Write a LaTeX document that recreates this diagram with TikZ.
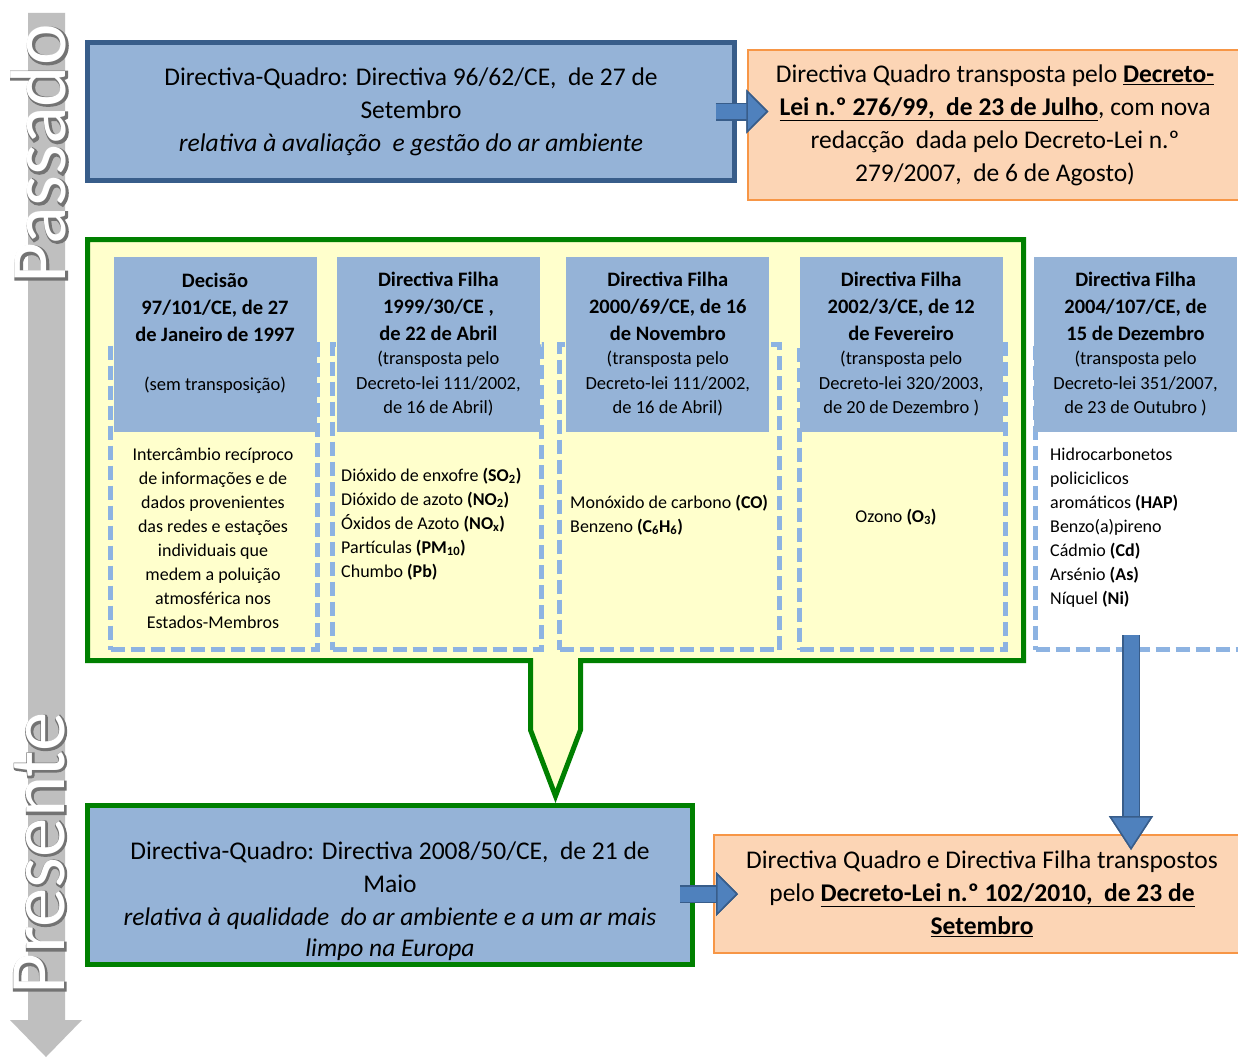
\documentclass[tikz,border=0pt]{standalone}
\usepackage{fontspec}
\setmainfont{Carlito}
\newfontfamily\contorno[FakeBold=4]{Carlito}
\usetikzlibrary{arrows.meta, positioning}

\definecolor{azulcaixa}{RGB}{149,179,215}
\definecolor{azulborda}{RGB}{56,93,138}
\definecolor{azulseta}{RGB}{79,129,189}
\definecolor{laranjafundo}{RGB}{252,213,181}
\definecolor{laranjaborda}{RGB}{247,150,70}
\definecolor{verdeborda}{RGB}{0,128,0}
\definecolor{amarelofundo}{RGB}{255,255,204}
\definecolor{azultracejado}{RGB}{141,179,226}
\definecolor{cinzatempo}{RGB}{191,191,191}

\newcommand{\grande}{\fontsize{25.5}{33}\selectfont}
\newcommand{\negrito}{\fontsize{20.5}{24.5}\selectfont\bfseries}
\newcommand{\pequeno}{\fontsize{18.5}{24.5}\selectfont}
\newcommand{\corpo}{\fontsize{18}{24}\selectfont}

\begin{document}
\begin{tikzpicture}[
    x=1pt, y=-1pt,
    quadro/.style={rectangle, draw=azulborda, line width=5pt, fill=azulcaixa,
                   align=center, font=\grande},
    transposicao/.style={rectangle, draw=laranjaborda, line width=1.5pt,
                   fill=laranjafundo, align=center, font=\grande},
    cabecalho/.style={rectangle, fill=azulcaixa, minimum width=203pt,
                   minimum height=175pt, align=center, font=\pequeno, inner sep=0pt},
    tracejado/.style={rectangle, draw=azultracejado, line width=5pt,
                   dash pattern=on 14pt off 6pt, minimum height=305pt},
    poluentes/.style={inner sep=0pt, font=\corpo},
    seta/.style={line width=15pt, draw=azulseta,
                 preaction={draw=azulborda, line width=18pt},
                 -{Triangle[length=22pt, width=44pt, line width=1.5pt,
                   color=azulborda, fill=azulseta]}},
    tempo/.style={rotate=90, anchor=west, inner sep=0pt,
                  font=\fontsize{79}{79}\selectfont}
]
    \path[use as bounding box, fill=white] (0,0) rectangle (1238,1057);

    % linha do tempo
    \fill[cinzatempo] (28,13) -- (65,13) -- (65,1020) -- (82,1020) -- (46,1057)
      -- (10,1020) -- (28,1020) -- cycle;
    \node[tempo, text=black!55] (passadoSombra) at (39.5,285) {\contorno Passado};
    \node[tempo, text=white] (passado) at (38.5,284) {Passado};
    \node[tempo, text=black!55] (presenteSombra) at (40,996) {\contorno Presente};
    \node[tempo, text=white] (presente) at (39,995) {Presente};

    \node[quadro, minimum width=647pt, minimum height=138pt] (quadro96) at (411,111.5)
      {Directiva-Quadro: Directiva 96/62/CE,\ \ de 27 de\\Setembro\\
       \textit{relativa à avaliação\ \ e gestão do ar ambiente}};
    \node[transposicao, minimum width=494pt, minimum height=150pt] (lei276) at (995,125)
      {Directiva Quadro transposta pelo \textbf{\underline{Decreto-}}\\
       \textbf{\underline{Lei n.º 276/99,\ \ de 23 de Julho}}, com nova\\
       redacção\ \ dada pelo Decreto-Lei n.º\\
       279/2007,\ \ de 6 de Agosto)};
    \draw[seta, shorten <=-21.5pt, shorten >=-21pt]
      (quadro96.east) -- (quadro96.east -| lei276.west);

    \draw[draw=verdeborda, line width=5pt, fill=amarelofundo]
      (87.5,239.5) -- (1023.5,239.5) -- (1023.5,660.5) -- (580.5,660.5)
      -- (580.5,730) -- (555.5,796) -- (530.5,730) -- (530.5,660.5)
      -- (87.5,660.5) -- cycle;

    \node[tracejado, minimum width=207pt] (caixaA) at (214,497) {};
    \node[tracejado, minimum width=209pt] (caixaB) at (437,497) {};
    \node[tracejado, minimum width=220pt] (caixaC) at (669.5,497) {};
    \node[tracejado, minimum width=206pt] (caixaD) at (902.5,497) {};
    \node[tracejado, minimum width=227pt] (caixaE) at (1149,497) {};

    \node[cabecalho] (decisao) at (215,344)
      {{\negrito Decisão}\\[2.5pt]{\negrito 97/101/CE, de 27}\\[2.5pt]
       {\negrito de Janeiro de 1997}\\[24pt](sem transposição)\\\mbox{}};
    \node[cabecalho, right=20pt of decisao] (filha1999)
      {{\negrito Directiva Filha}\\[2.5pt]{\negrito 1999/30/CE ,}\\[2.5pt]
       {\negrito de 22 de Abril}\\(transposta pelo\\Decreto-lei 111/2002,\\de 16 de Abril)};
    \node[cabecalho, right=26pt of filha1999] (filha2000)
      {{\negrito Directiva Filha}\\[2.5pt]{\negrito 2000/69/CE, de 16}\\[2.5pt]
       {\negrito de Novembro}\\(transposta pelo\\Decreto-lei 111/2002,\\de 16 de Abril)};
    \node[cabecalho, right=30pt of filha2000] (filha2002)
      {{\negrito Directiva Filha}\\[2.5pt]{\negrito 2002/3/CE, de 12}\\[2.5pt]
       {\negrito de Fevereiro}\\(transposta pelo\\Decreto-lei 320/2003,\\de 20 de Dezembro )};
    \node[cabecalho, right=31pt of filha2002] (filha2004)
      {{\negrito Directiva Filha}\\[2.5pt]{\negrito 2004/107/CE, de}\\[2.5pt]
       {\negrito 15 de Dezembro}\\(transposta pelo\\Decreto-lei 351/2007,\\de 23 de Outubro )};

    \node[poluentes, align=center] (textoA) at (213,538)
      {Intercâmbio recíproco\\de informações e de\\dados provenientes\\das redes e estações\\
       individuais que\\medem a poluição\\atmosférica nos\\Estados-Membros};
    \node[poluentes, align=left, anchor=west] (textoB) at (341,524)
      {Dióxido de enxofre \textbf{(SO\textsubscript{2})}\\
       Dióxido de azoto \textbf{(NO\textsubscript{2})}\\
       Óxidos de Azoto \textbf{(NO\textsubscript{x})}\\
       Partículas \textbf{(PM\textsubscript{10})}\\
       Chumbo \textbf{(Pb)}};
    \node[poluentes, align=left, anchor=west] (textoC) at (570,515)
      {Monóxido de carbono \textbf{(CO)}\\
       Benzeno \textbf{(C\textsubscript{6}H\textsubscript{6})}};
    \node[poluentes] (textoD) at (896,517) {Ozono \textbf{(O\textsubscript{3})}};
    \node[poluentes, align=left, anchor=west] (textoE) at (1050,528)
      {Hidrocarbonetos\\policiclicos\\aromáticos \textbf{(HAP)}\\Benzo(a)pireno\\
       Cádmio \textbf{(Cd)}\\Arsénio \textbf{(As)}\\Níquel \textbf{(Ni)}};

    \node[quadro, draw=verdeborda, minimum width=605pt, minimum height=155pt]
      (quadro2008) at (390,885)
      {\mbox{}\\[17pt]Directiva-Quadro: Directiva 2008/50/CE,\ \ de 21 de\\Maio\\
       \textit{relativa à qualidade\ \ do ar ambiente e a um ar mais}\\[-1.5pt]
       \textit{limpo na Europa}};
    \node[transposicao, minimum width=536pt, minimum height=118pt] (lei102) at (982,894)
      {Directiva Quadro e Directiva Filha transpostos\\
       pelo \textbf{\underline{Decreto-Lei n.º 102/2010,\ \ de 23 de}}\\
       \textbf{\underline{Setembro}}};
    \draw[seta, shorten <=-15pt, shorten >=-24.75pt]
      (quadro2008.east |- lei102.west) -- (lei102.west);

    \coordinate (origem2004) at ([xshift=-18pt, yshift=17pt]caixaE.south);
    \draw[seta, -{Triangle[length=34pt, width=44pt, line width=1.5pt,
                 color=azulborda, fill=azulseta]}, shorten >=-15.75pt]
      (origem2004) -- (origem2004 |- lei102.north);
\end{tikzpicture}
\end{document}
